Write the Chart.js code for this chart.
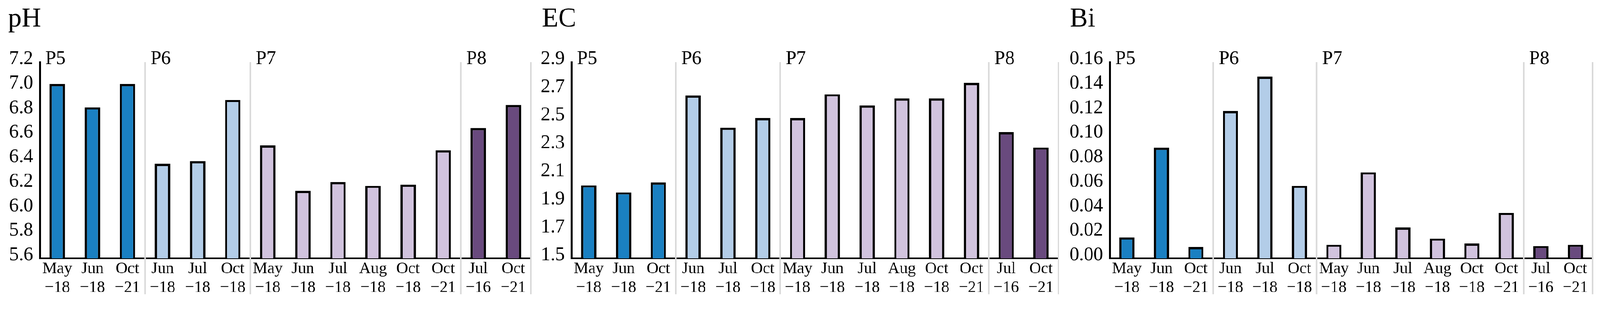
<!DOCTYPE html>
<html>
<head>
<meta charset="utf-8">
<script src="https://cdn.jsdelivr.net/npm/chart.js@4.4.1/dist/chart.umd.min.js"></script>
<style>
  html, body { margin:0; padding:0; background:#fff; overflow:hidden; }
  #stage { width:4340px; height:824px; position:absolute; left:0; top:0; transform-origin:0 0; }
  canvas { position:absolute; top:0; }
</style>
</head>
<body>
<div id="stage">
  <canvas id="ph" width="1460" height="824" style="left:0px"></canvas>
  <canvas id="ec" width="1430" height="824" style="left:1460px"></canvas>
  <canvas id="bi" width="1450" height="824" style="left:2890px"></canvas>
</div>
<script>
// sampling dates (two-line tick labels) and site groups
const categories = [
  ['May','\u221218'], ['Jun','\u221218'], ['Oct','\u221221'],
  ['Jun','\u221218'], ['Jul','\u221218'], ['Oct','\u221218'],
  ['May','\u221218'], ['Jun','\u221218'], ['Jul','\u221218'], ['Aug','\u221218'], ['Oct','\u221218'], ['Oct','\u221221'],
  ['Jul','\u221216'], ['Oct','\u221221']
];
const groups = ['P5', 'P6', 'P7', 'P8'];
const groupSizes = [3, 3, 6, 2];
const groupColors = ['#1a80c2', '#b3cde8', '#d1c3de', '#694a7e'];

const phValues = [7.02, 6.83, 7.02, 6.37, 6.39, 6.89, 6.52, 6.15, 6.22, 6.19, 6.20, 6.48, 6.66, 6.85];
const ecValues = [2.02, 1.97, 2.04, 2.66, 2.43, 2.50, 2.50, 2.67, 2.59, 2.64, 2.64, 2.75, 2.40, 2.29];
const biValues = [0.017, 0.090, 0.009, 0.120, 0.148, 0.059, 0.011, 0.070, 0.025, 0.016, 0.012, 0.037, 0.010, 0.011];

const phTicks = {min: 5.6, max: 7.2, step: 0.2, digits: 1};
const ecTicks = {min: 1.5, max: 2.9, step: 0.2, digits: 1};
const biTicks = {min: 0, max: 0.16, step: 0.02, digits: 2};

// layout per panel (pixels inside each canvas)
const panels = [
  {id: 'ph', title: 'pH', values: phValues, ticks: phTicks, axisWidth: 108, padRight: 20, titleX: 22},
  {id: 'ec', title: 'EC', values: ecValues, ticks: ecTicks, axisWidth: 90, padRight: 19, titleX: 10},
  {id: 'bi', title: 'Bi', values: biValues, ticks: biTicks, axisWidth: 120, padRight: 20, titleX: 12}
];

const FONT = "'Liberation Serif', 'Times New Roman', serif";

// fit the 4340x824 stage into whatever viewport we really got
const stage = document.getElementById('stage');
const k = Math.min(window.innerWidth / 4340, window.innerHeight / 824);
stage.style.transform = 'scale(' + k + ')';

// colour of each bar from its group
const barColors = [];
groupSizes.forEach((n, g) => { for (let i = 0; i < n; i++) barColors.push(groupColors[g]); });

const decorPlugin = {
  id: 'decor',
  afterDraw(chart, args, opts) {
    const ctx = chart.ctx;
    const area = chart.chartArea;
    const x = chart.scales.x;
    const step = (area.right - area.left) / categories.length;
    ctx.save();
    // title
    ctx.fillStyle = '#000';
    ctx.font = '73px ' + FONT;
    ctx.textBaseline = 'alphabetic';
    ctx.textAlign = 'left';
    ctx.fillText(opts.title, opts.titleX, 72);
    // group separators + labels
    let idx = 0;
    groups.forEach((g, gi) => {
      const left = x.getPixelForValue(idx) - step / 2;
      idx += groupSizes[gi];
      const right = x.getPixelForValue(idx - 1) + step / 2;
      ctx.strokeStyle = '#d9d9d9';
      ctx.lineWidth = 4;
      ctx.beginPath();
      ctx.moveTo(right, area.top);
      ctx.lineTo(right, 798);
      ctx.stroke();
      ctx.fillStyle = '#000';
      ctx.font = '52px ' + FONT;
      ctx.textBaseline = 'middle';
      ctx.fillText(g, left + 15, area.top - 8);
    });
    ctx.restore();
  }
};

panels.forEach(p => {
  const ctx = document.getElementById(p.id).getContext('2d');
  new Chart(ctx, {
    type: 'bar',
    data: {
      labels: categories,
      datasets: [{
        data: p.values,
        backgroundColor: barColors,
        borderColor: '#000',
        borderWidth: 6,
        barPercentage: 0.44,
        categoryPercentage: 1
      }]
    },
    options: {
      responsive: false,
      animation: false,
      devicePixelRatio: 1,
      layout: {padding: {top: 168, bottom: 0, left: 0, right: p.padRight}},
      plugins: {
        legend: {display: false},
        tooltip: {enabled: false},
        decor: {title: p.title, titleX: p.titleX}
      },
      scales: {
        x: {
          grid: {display: false, drawTicks: false},
          border: {color: '#000', width: 5},
          ticks: {color: '#000', font: {family: FONT, size: 44, lineHeight: 1.18}, padding: 3, maxRotation: 0, autoSkip: false},
          afterFit: s => { s.height = 124; }
        },
        y: {
          min: p.ticks.min,
          max: p.ticks.max,
          grid: {display: false, drawTicks: false},
          border: {color: '#000', width: 5},
          ticks: {
            color: '#000',
            stepSize: p.ticks.step,
            padding: 18,
            labelOffset: -8,
            font: {family: FONT, size: 52},
            callback: v => Number(v).toFixed(p.ticks.digits)
          },
          afterFit: s => { s.width = p.axisWidth; }
        }
      }
    },
    plugins: [decorPlugin]
  });
});
</script>
</body>
</html>
